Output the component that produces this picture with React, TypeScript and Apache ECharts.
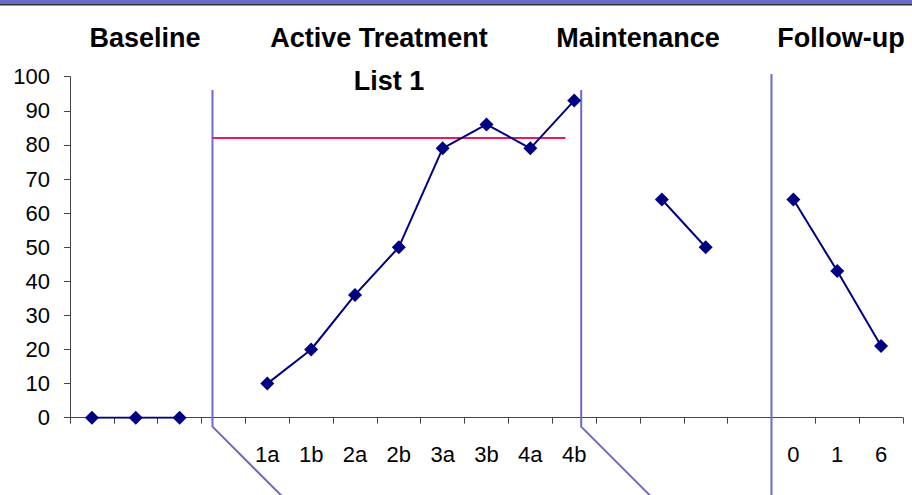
import React, { useEffect, useRef } from 'react';
import * as echarts from 'echarts';

// Session labels along the x axis (one slot per session, blanks are unlabelled sessions/gaps)
const categories = ['', '', '', '', '1a', '1b', '2a', '2b', '3a', '3b', '4a', '4b', '', '', '', '', '0', '1', '6'];

// Percent correct per phase
const baseline = [0, 0, 0];
const activeTreatment = [10, 20, 36, 50, 79, 86, 79, 93];
const maintenance = [64, 50];
const followUp = [64, 43, 21];

// First category slot occupied by each phase
const phaseStarts = [0, 4, 13, 16];
const phaseTitles = ['Baseline', 'Active Treatment', 'Maintenance', 'Follow-up'];
const chartTitle = 'List 1';

// Criterion level drawn across the treatment phase
const criterion = 82;

const W = 912;
const H = 495;
const GRID = { left: 70, right: 9, top: 76.7, bottom: 77.3 };
const FONT = 'Arial, "Liberation Sans", sans-serif';
const NAVY = '#000080';
const PHASE_LINE = '#6b6bcc';

function place(values: number[], start: number): (number | string)[] {
  const out: (number | string)[] = categories.map(() => '-');
  values.forEach((v, i) => {
    out[start + i] = v;
  });
  return out;
}

export default function App() {
  const ref = useRef<HTMLDivElement>(null);

  useEffect(() => {
    if (!ref.current) return;
    const chart = echarts.init(ref.current, undefined, { renderer: 'svg', width: W, height: H });

    const phases = [baseline, activeTreatment, maintenance, followUp];
    const series = phases.map((vals, k) => ({
      type: 'line' as const,
      name: phaseTitles[k],
      data: place(vals, phaseStarts[k]),
      symbol: 'diamond',
      symbolSize: 14,
      showAllSymbol: true,
      connectNulls: false,
      lineStyle: { color: NAVY, width: 2 },
      itemStyle: { color: NAVY },
      z: 5,
    }));

    chart.setOption({
      animation: false,
      backgroundColor: '#ffffff',
      grid: { ...GRID, containLabel: false },
      xAxis: {
        type: 'category',
        data: categories,
        boundaryGap: true,
        axisLine: { lineStyle: { color: '#444', width: 1 } },
        axisTick: { show: true, interval: 0, length: 6, lineStyle: { color: '#444' } },
        axisLabel: { interval: 0, margin: 26, color: '#000', fontSize: 22, fontFamily: FONT },
        splitLine: { show: false },
      },
      yAxis: {
        type: 'value',
        min: 0,
        max: 100,
        interval: 10,
        axisLine: { show: true, lineStyle: { color: '#444', width: 1 } },
        axisTick: { show: true, length: 6, lineStyle: { color: '#444' } },
        axisLabel: { margin: 20, color: '#000', fontSize: 22, fontFamily: FONT },
        splitLine: { show: false },
      },
      series,
    });

    // Phase dividers, headings and criterion line, positioned from the grid layout
    const step = (W - GRID.left - GRID.right) / categories.length;
    const xAt = (slot: number) => GRID.left + step * slot;
    const yAt = (v: number) => chart.convertToPixel({ yAxisIndex: 0 }, v) as number;
    const axisY = yAt(0);

    const d1 = xAt(3.25);
    const d2 = xAt(11.66);
    const d3 = xAt(16);
    const slant = H - (axisY + 9) + 2;

    const titleX = [145, 379, 638, 841];

    chart.setOption({
      graphic: [
        { type: 'rect', shape: { x: 0, y: 0, width: W, height: 4 }, style: { fill: '#6a6acc' }, z: 10 },
        { type: 'line', shape: { x1: 0, y1: 4.75, x2: W, y2: 4.75 }, style: { stroke: '#333', lineWidth: 1.5 }, z: 10 },
        ...phaseTitles.map((t, i) => ({
          type: 'text',
          x: titleX[i],
          y: 38,
          style: {
            text: t,
            fill: '#000',
            font: `bold 27px ${FONT}`,
            align: 'center',
            verticalAlign: 'middle',
          },
          z: 10,
        })),
        {
          type: 'text',
          x: 389,
          y: 81,
          style: { text: chartTitle, fill: '#000', font: `bold 27px ${FONT}`, align: 'center', verticalAlign: 'middle' },
          z: 10,
        },
        {
          type: 'polyline',
          shape: { points: [[d1, 90], [d1, axisY + 9], [d1 + slant, H + 2]] },
          style: { stroke: PHASE_LINE, lineWidth: 2, fill: 'none' },
          z: 4,
        },
        {
          type: 'polyline',
          shape: { points: [[d2, 90], [d2, axisY + 9], [d2 + slant, H + 2]] },
          style: { stroke: PHASE_LINE, lineWidth: 2, fill: 'none' },
          z: 4,
        },
        {
          type: 'line',
          shape: { x1: d3, y1: 74, x2: d3, y2: H },
          style: { stroke: PHASE_LINE, lineWidth: 2 },
          z: 4,
        },
        {
          type: 'line',
          shape: { x1: d1, y1: yAt(criterion), x2: xAt(11.3), y2: yAt(criterion) },
          style: { stroke: '#f0155f', lineWidth: 2 },
          z: 4,
        },
      ],
    });

    return () => chart.dispose();
  }, []);

  return <div ref={ref} style={{ position: 'fixed', left: 0, top: 0, width: W, height: H, background: '#fff' }} />;
}
